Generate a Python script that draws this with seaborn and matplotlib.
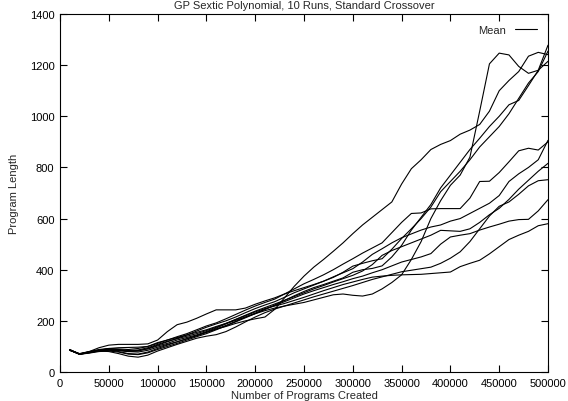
import numpy as np
import pandas as pd
import matplotlib
matplotlib.use("Agg")
import matplotlib.pyplot as plt
import seaborn as sns

# programs created (sampling grid of each run)
programs_created = list(range(10000, 500001, 10000))

run_t = [88, 70, 75, 82, 85, 84, 80, 78, 85, 97,
         108, 118, 130, 142, 155, 168, 178, 190, 200, 208,
         215, 245, 290, 335, 375, 410, 440, 472, 505, 541,
         575, 605, 635, 665, 735, 795, 830, 870, 890, 905,
         930, 946, 968, 1020, 1100, 1140, 1175, 1235, 1250, 1241]
run_u2 = [85, 70, 80, 95, 105, 108, 108, 108, 110, 125,
          158, 185, 195, 210, 227, 243, 243, 243, 250, 265,
          278, 290, 305, 318, 330, 342, 355, 370, 390, 414,
          425, 435, 443, 480, 522, 560, 600, 645, 705, 745,
          785, 830, 880, 920, 960, 1010, 1070, 1130, 1175, 1255]
run_l5 = [86, 72, 80, 88, 92, 90, 88, 92, 100, 112,
          125, 138, 150, 165, 180, 192, 208, 225, 242, 258,
          272, 285, 305, 325, 345, 362, 380, 400, 422, 443,
          465, 485, 505, 545, 585, 620, 622, 638, 639, 639,
          639, 680, 745, 746, 780, 822, 865, 875, 868, 900]
run_la = [85, 70, 78, 85, 88, 85, 80, 82, 92, 105,
          118, 132, 145, 160, 175, 188, 200, 215, 232, 248,
          262, 275, 292, 310, 325, 340, 355, 372, 388, 404,
          430, 460, 482, 505, 525, 540, 555, 567, 575, 590,
          600, 620, 640, 660, 690, 745, 775, 800, 830, 906]
run_u1 = [87, 69, 74, 80, 82, 78, 70, 68, 75, 88,
          100, 112, 125, 138, 150, 165, 180, 196, 212, 228,
          245, 262, 280, 298, 315, 330, 342, 355, 368, 390,
          400, 405, 415, 450, 495, 555, 605, 655, 720, 770,
          820, 870, 914, 960, 1000, 1045, 1062, 1120, 1180, 1278]
run_lb = [86, 71, 79, 86, 90, 88, 84, 86, 95, 108,
          120, 130, 140, 150, 162, 175, 190, 206, 222, 238,
          252, 266, 280, 295, 310, 325, 338, 352, 365, 378,
          395, 420, 456, 475, 490, 505, 520, 535, 554, 552,
          550, 560, 585, 615, 640, 675, 715, 750, 785, 816]
run_lc = [85, 70, 77, 83, 86, 80, 72, 70, 78, 92,
          105, 118, 130, 142, 155, 168, 182, 198, 215, 230,
          245, 260, 275, 290, 305, 318, 330, 342, 353, 365,
          375, 388, 400, 415, 430, 440, 450, 463, 500, 528,
          535, 541, 555, 567, 578, 590, 596, 597, 630, 674]
run_le = [86, 70, 76, 84, 88, 86, 82, 84, 90, 102,
          112, 125, 135, 145, 158, 172, 188, 205, 220, 235,
          248, 258, 268, 280, 292, 305, 318, 330, 342, 352,
          362, 371, 375, 378, 380, 381, 382, 385, 388, 391,
          412, 425, 437, 462, 490, 518, 535, 550, 572, 580]
run_ld = [85, 71, 78, 82, 80, 72, 62, 58, 66, 82,
          95, 108, 120, 132, 140, 146, 158, 176, 196, 215,
          232, 246, 258, 270, 282, 294, 305, 316, 327, 338,
          350, 362, 372, 382, 392, 398, 404, 410, 425, 445,
          470, 510, 560, 610, 648, 665, 695, 728, 748, 752]
run_j = [87, 69, 76, 85, 92, 95, 96, 97, 100, 115,
         125, 135, 145, 155, 165, 178, 190, 202, 215, 228,
         240, 250, 258, 265, 272, 282, 292, 302, 305, 300,
         297, 305, 325, 350, 380, 440, 510, 600, 670, 730,
         770, 840, 1020, 1205, 1247, 1240, 1195, 1168, 1180, 1215]

runs = [run_t, run_u2, run_l5, run_la, run_u1, run_lb, run_lc, run_le, run_ld, run_j]

rows = []
for i, r in enumerate(runs):
    for xv, yv in zip(programs_created, r):
        rows.append({"run": i, "x": xv, "y": yv})
df = pd.DataFrame(rows)

sns.set_style("ticks")
plt.rcParams["font.family"] = ["Liberation Sans", "DejaVu Sans"]

fig = plt.figure(figsize=(5.68, 4.02), dpi=100)
ax = fig.add_axes([60/568, 1 - 373/402, 488/568, 358/402])

sns.lineplot(data=df, x="x", y="y", units="run", estimator=None,
             color="black", linewidth=0.8, label="Mean", ax=ax, sort=False)

ax.set_xlim(0, 500000)
ax.set_ylim(0, 1400)
ax.set_xticks(list(range(0, 500001, 50000)))
ax.set_yticks(list(range(0, 1401, 200)))
ax.tick_params(direction="in", top=True, right=True, length=5, width=0.8,
               labelsize=8, colors="black", pad=4)
for s in ax.spines.values():
    s.set_color("black")
    s.set_linewidth(0.8)

ax.set_title("GP Sextic Polynomial, 10 Runs, Standard Crossover", fontsize=8, pad=4)
ax.set_xlabel("Number of Programs Created", fontsize=8, labelpad=2)
ax.set_ylabel("Program Length", fontsize=8, labelpad=8)

handles, labels = ax.get_legend_handles_labels()
ax.legend(handles[:1], labels[:1], loc="upper right", frameon=False,
          markerfirst=False, fontsize=8, handlelength=2.0, borderaxespad=0.6)

fig.savefig("out.png", dpi=100)
